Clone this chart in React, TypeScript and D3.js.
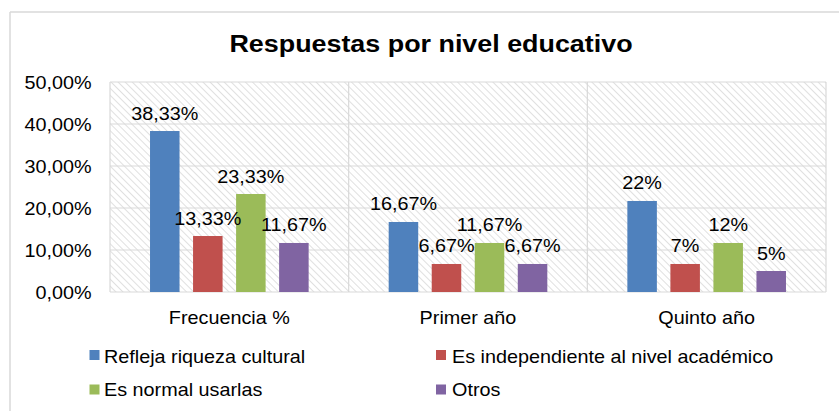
import React from "react";
import * as d3 from "d3";

const categories = ["Frecuencia %", "Primer año", "Quinto año"];
const seriesNames = [
  "Refleja riqueza cultural",
  "Es independiente al nivel académico",
  "Es normal usarlas",
  "Otros",
];
const seriesColors = ["#4f81bd", "#c0504d", "#9bbb59", "#8064a2"];
// values[category][series]
const valFrecuencia = [38.33, 13.33, 23.33, 11.67];
const valPrimer = [16.67, 6.67, 11.67, 6.67];
const valQuinto = [21.67, 6.67, 11.67, 5.0];
const lblFrecuencia = ["38,33%", "13,33%", "23,33%", "11,67%"];
const lblPrimer = ["16,67%", "6,67%", "11,67%", "6,67%"];
const lblQuinto = ["22%", "7%", "12%", "5%"];
const yTicks = [0, 10, 20, 30, 40, 50];
const yTickLabels = ["0,00%", "10,00%", "20,00%", "30,00%", "40,00%", "50,00%"];

const values = [valFrecuencia, valPrimer, valQuinto];
const labels = [lblFrecuencia, lblPrimer, lblQuinto];

const W = 839;
const H = 411;
const FONT = "'Liberation Sans', Arial, sans-serif";
const GRID = "#d9d9d9";

function T(props: {
  x: number;
  y: number;
  anchor?: string;
  size?: number;
  sx?: number;
  weight?: string | number;
  children: React.ReactNode;
}) {
  const { x, y, anchor = "middle", size = 18, sx = 1.1, weight = "normal", children } = props;
  return (
    <text
      transform={`translate(${x},${y}) scale(${sx},1)`}
      textAnchor={anchor}
      fontSize={size}
      fontWeight={weight as any}
      fontFamily={FONT}
      fill="#000"
    >
      {children}
    </text>
  );
}

export default function App() {
  const plot = { left: 110, right: 826, top: 82, bottom: 292 };
  const y = d3.scaleLinear().domain([0, 50]).range([plot.bottom, plot.top]);
  const x0 = d3
    .scaleBand<string>()
    .domain(categories)
    .range([plot.left, plot.right])
    .paddingInner(0)
    .paddingOuter(0);
  const x1 = d3
    .scaleBand<string>()
    .domain(seriesNames)
    .range([0, x0.bandwidth()])
    .paddingInner(0.314)
    .paddingOuter(0.93);

  const legendPos = [
    { sx: 89.5, tx: 104, sy: 350, ty: 362.5 },
    { sx: 436, tx: 452, sy: 350, ty: 362.5 },
    { sx: 89.5, tx: 104, sy: 384.5, ty: 396 },
    { sx: 436, tx: 452, sy: 384.5, ty: 396 },
  ];

  return (
    <div style={{ position: "fixed", left: 0, top: 0 }}>
      <svg width={W} height={H} style={{ display: "block" }}>
        <defs>
          <pattern
            id="hatch"
            patternUnits="userSpaceOnUse"
            width={5}
            height={5}
            patternTransform="rotate(-45)"
          >
            <rect width={5} height={5} fill="#fff" />
            <line x1={0} y1={0} x2={0} y2={5} stroke="#d0d0d0" strokeWidth={1.3} />
          </pattern>
        </defs>
        <rect width={W} height={H} fill="#fff" />
        {/* outer chart border */}
        <line x1={10} y1={12} x2={W} y2={12} stroke={GRID} strokeWidth={1.5} />
        <line x1={10} y1={12} x2={10} y2={H} stroke={GRID} strokeWidth={1.5} />

        <T x={431} y={51.5} size={24} sx={1.12} weight="bold">
          Respuestas por nivel educativo
        </T>

        {/* plot area hatch */}
        <rect
          x={plot.left}
          y={plot.top}
          width={plot.right - plot.left}
          height={plot.bottom - plot.top}
          fill="url(#hatch)"
        />
        {/* gridlines */}
        {yTicks.map((t) => (
          <line
            key={"g" + t}
            x1={plot.left}
            x2={plot.right}
            y1={y(t)}
            y2={y(t)}
            stroke={GRID}
            strokeWidth={1.2}
          />
        ))}
        {/* category separators and edges */}
        {[...categories.map((c) => x0(c) as number), plot.right].map((xx, i) => (
          <line
            key={"v" + i}
            x1={xx}
            x2={xx}
            y1={plot.top}
            y2={plot.bottom}
            stroke={GRID}
            strokeWidth={1.2}
          />
        ))}

        {/* y tick labels */}
        {yTicks.map((t, i) => (
          <T key={"yl" + t} x={91.5} y={y(t) + 6.5} anchor="end">
            {yTickLabels[i]}
          </T>
        ))}

        {/* bars */}
        {categories.map((c, ci) =>
          seriesNames.map((s, si) => {
            const bx = (x0(c) as number) + (x1(s) as number);
            const v = values[ci][si];
            return (
              <rect
                key={c + s}
                x={bx}
                y={y(v)}
                width={x1.bandwidth()}
                height={y(0) - y(v)}
                fill={seriesColors[si]}
              />
            );
          })
        )}
        {/* data labels */}
        {categories.map((c, ci) =>
          seriesNames.map((s, si) => {
            const bx = (x0(c) as number) + (x1(s) as number) + x1.bandwidth() / 2;
            const v = values[ci][si];
            return (
              <T key={"l" + c + s} x={bx} y={y(v) - 11.5}>
                {labels[ci][si]}
              </T>
            );
          })
        )}

        {/* x category labels */}
        {categories.map((c) => (
          <T key={"x" + c} x={(x0(c) as number) + x0.bandwidth() / 2} y={323.5}>
            {c}
          </T>
        ))}

        {/* legend */}
        {seriesNames.map((s, i) => (
          <g key={"lg" + s}>
            <rect
              x={legendPos[i].sx}
              y={legendPos[i].sy}
              width={10}
              height={10}
              fill={seriesColors[i]}
            />
            <T x={legendPos[i].tx} y={legendPos[i].ty} anchor="start">
              {s}
            </T>
          </g>
        ))}
      </svg>
    </div>
  );
}
